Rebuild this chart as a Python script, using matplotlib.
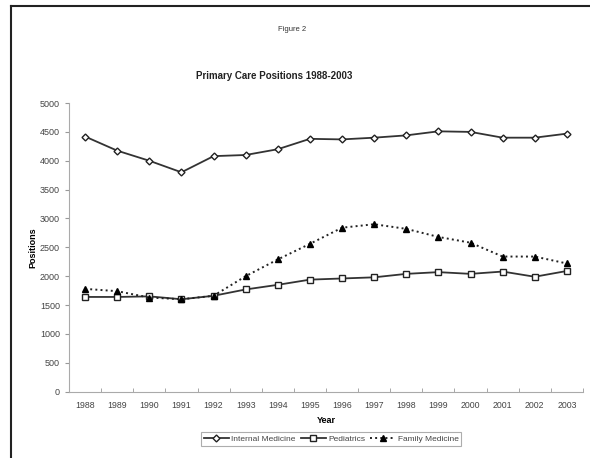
import numpy as np
import matplotlib.pyplot as plt
from matplotlib.lines import Line2D

plt.rcParams['font.family'] = ['Liberation Sans', 'DejaVu Sans']

# data
years = [str(y) for y in range(1988, 2004)]
internal_medicine = [4420, 4175, 4000, 3800, 4080, 4100, 4200, 4380,
                     4370, 4400, 4440, 4510, 4500, 4400, 4400, 4470]
pediatrics = [1640, 1640, 1650, 1600, 1660, 1770, 1850, 1940,
              1960, 1980, 2040, 2070, 2040, 2080, 1990, 2090]
family_medicine = [1780, 1740, 1630, 1600, 1660, 2000, 2290, 2560,
                   2840, 2900, 2820, 2680, 2580, 2340, 2340, 2220]

fig = plt.figure(figsize=(5.9, 4.58), dpi=100)
ax = fig.add_axes([0.117, 0.145, 0.871, 0.63])

x = np.arange(len(years))
ax.plot(x, internal_medicine, '-', color='#333333', lw=1.3, marker='D', ms=3.5,
        mfc='white', mec='#222222', mew=1, label='Internal Medicine')
ax.plot(x, pediatrics, '-', color='#333333', lw=1.3, marker='s', ms=4.5,
        mfc='white', mec='#222222', mew=1, label='Pediatrics')
ax.plot(x, family_medicine, ':', color='#222222', lw=1.4, marker='^', ms=4.5,
        mfc='black', mec='black', label='Family Medicine')

ax.set_xlim(-0.5, 15.5)
ax.set_ylim(0, 5000)
ax.set_yticks(range(0, 5001, 500))
ax.set_xticks(x)
ax.set_xticklabels(years)
ax.set_xticks(np.arange(-0.5, 16, 1), minor=True)
ax.tick_params(axis='x', which='major', length=0, labelsize=6.3, colors='#444444', pad=7)
ax.tick_params(axis='x', which='minor', length=3, color='#999999', direction='in')
ax.tick_params(axis='y', length=3, color='#999999', labelsize=6.5, colors='#444444')
for s in ['top', 'right']:
    ax.spines[s].set_visible(False)
for s in ['left', 'bottom']:
    ax.spines[s].set_color('#aaaaaa')
    ax.spines[s].set_linewidth(0.8)

ax.set_xlabel('Year', fontsize=6.5, fontweight='bold', labelpad=4)
ax.set_ylabel('Positions', fontsize=6.5, fontweight='bold', labelpad=2)

fig.text(0.495, 0.936, 'Figure 2', fontsize=5.5, ha='center', va='center', color='#333333')
fig.text(0.465, 0.835, 'Primary Care Positions 1988-2003', fontsize=7,
         fontweight='bold', ha='center', va='center', color='#222222')

leg = ax.legend(loc='center', bbox_to_anchor=(0.51, -0.165), ncol=3, fontsize=6,
                frameon=True, fancybox=False, handlelength=3, handletextpad=0.3,
                columnspacing=0.6, borderpad=0.35)
leg.get_frame().set_edgecolor('#999999')
leg.get_frame().set_linewidth(0.8)
for t in leg.get_texts():
    t.set_color('#444444')

# page frame (top and left edges)
fig.add_artist(Line2D([11/590, 1], [1 - 6/458, 1 - 6/458], color='#222222', lw=1.5,
                      transform=fig.transFigure))
fig.add_artist(Line2D([11/590, 11/590], [0, 1 - 6/458], color='#222222', lw=1.5,
                      transform=fig.transFigure))

fig.savefig('out.png', dpi=100)
